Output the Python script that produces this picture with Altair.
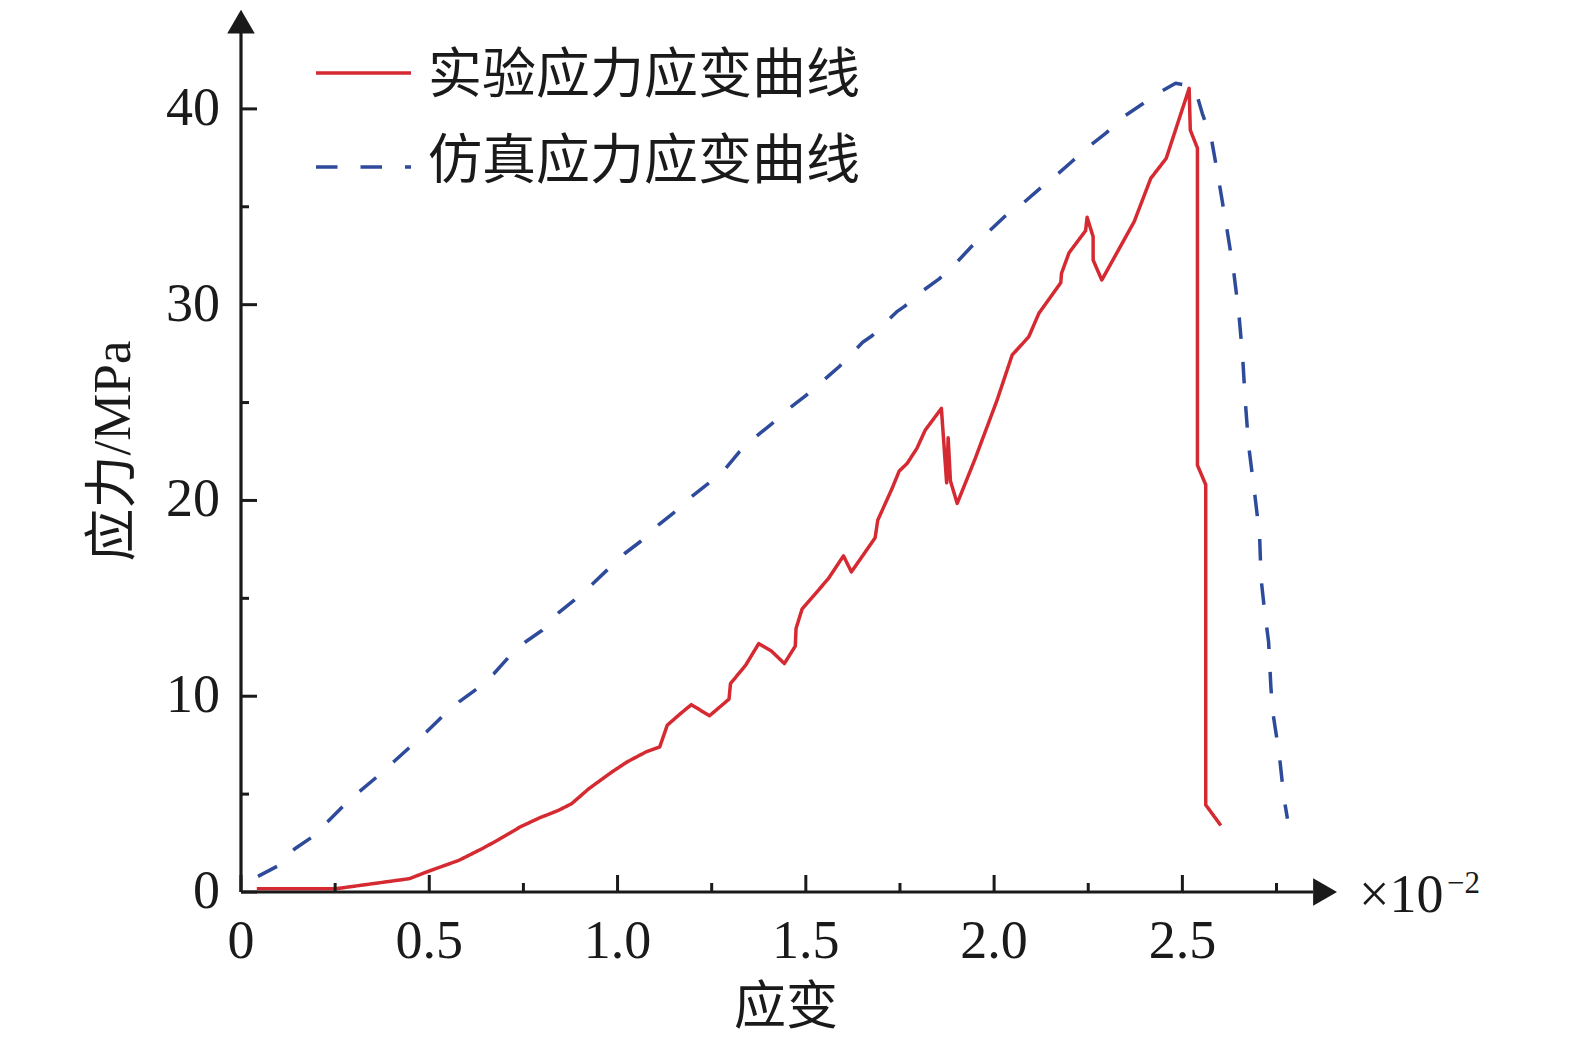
import altair as alt
import pandas as pd

# ---------------- data ----------------
series_names = ["实验应力应变曲线", "仿真应力应变曲线"]

exp_strain = [0.042, 0.253, 0.447, 0.498, 0.579, 0.640, 0.681, 0.741, 0.792, 0.843,
              0.878, 0.924, 0.985, 1.025, 1.076, 1.112, 1.132, 1.167, 1.196, 1.244,
              1.296, 1.300, 1.340, 1.375, 1.409, 1.443, 1.472, 1.474, 1.490, 1.560,
              1.600, 1.621, 1.684, 1.691, 1.729, 1.748, 1.769, 1.795, 1.817, 1.860,
              1.874, 1.878, 1.884, 1.902, 1.950, 2.008, 2.048, 2.092, 2.119, 2.177,
              2.179, 2.199, 2.243, 2.247, 2.263, 2.263, 2.286, 2.372, 2.416, 2.457,
              2.518, 2.521, 2.540, 2.540, 2.562, 2.562, 2.602]
exp_stress = [0.17, 0.17, 0.68, 1.06, 1.62, 2.21, 2.64, 3.32, 3.78, 4.17,
              4.51, 5.28, 6.13, 6.64, 7.16, 7.41, 8.52, 9.11, 9.57, 9.00,
              9.85, 10.65, 11.58, 12.69, 12.30, 11.67, 12.56, 13.46, 14.45, 16.01,
              17.17, 16.35, 18.09, 18.99, 20.61, 21.50, 21.89, 22.66, 23.59, 24.70,
              20.90, 23.20, 21.00, 19.85, 22.15, 25.13, 27.43, 28.36, 29.56, 31.12,
              31.60, 32.65, 33.78, 34.46, 33.47, 32.28, 31.26, 34.24, 36.45, 37.47,
              41.05, 38.92, 37.99, 21.80, 20.80, 4.45, 3.40]

sim_strain = [0.045, 0.098, 0.143, 0.189, 0.234, 0.269, 0.315, 0.361, 0.407, 0.449,
              0.493, 0.533, 0.579, 0.625, 0.672, 0.709, 0.756, 0.800, 0.843, 0.885,
              0.932, 0.972, 1.019, 1.060, 1.108, 1.149, 1.196, 1.238, 1.287, 1.324,
              1.370, 1.411, 1.456, 1.499, 1.565, 1.589, 1.651, 1.676, 1.741, 1.762,
              1.812, 1.855, 1.902, 1.940, 1.988, 2.026, 2.078, 2.116, 2.168, 2.206,
              2.254, 2.297, 2.349, 2.387, 2.444, 2.482, 2.512, 2.539, 2.553, 2.577,
              2.598, 2.617, 2.636, 2.650, 2.660, 2.667, 2.676, 2.691, 2.705, 2.709,
              2.718, 2.729, 2.735, 2.740, 2.757, 2.770, 2.779]
sim_stress = [0.80, 1.33, 2.21, 2.81, 3.66, 4.34, 5.14, 5.88, 6.68, 7.41,
              8.18, 8.94, 9.71, 10.36, 11.16, 11.96, 12.78, 13.37, 14.26, 14.91,
              15.71, 16.44, 17.29, 17.89, 18.74, 19.37, 20.19, 20.82, 21.64, 22.49,
              23.30, 23.94, 24.71, 25.34, 26.44, 26.84, 28.08, 28.41, 29.63, 29.91,
              30.73, 31.33, 32.19, 32.97, 33.78, 34.47, 35.20, 35.84, 36.66, 37.30,
              38.12, 38.76, 39.67, 40.16, 40.89, 41.31, 41.20, 40.67, 39.76, 38.48,
              36.20, 34.01, 31.73, 29.54, 27.35, 25.07, 22.79, 20.51, 18.23, 16.00,
              14.40, 12.77, 10.48, 9.20, 7.07, 4.77, 3.75]

x_major = [0, 0.5, 1.0, 1.5, 2.0, 2.5]
x_labels = ["0", "0.5", "1.0", "1.5", "2.0", "2.5"]
x_minor = [0.25, 0.75, 1.25, 1.75, 2.25, 2.75]
y_major = [0, 10, 20, 30, 40]
y_labels = ["0", "10", "20", "30", "40"]
y_minor = [5, 15, 25, 35]
x_title = "应变"
y_title = "应力/MPa"
unit_base = "×10"
unit_exp = "−2"

x_domain = [0, 2.9]
y_domain = [0, 45]
x_axis_end = 2.847
x_arrow = 2.879
y_axis_end = 43.87
y_arrow = 44.46

RED = "#d52a31"
BLUE = "#2e4b9b"
INK = "#1a1a1a"
W, H = 1092, 881
SERIF = "Liberation Serif"
CJK = "Noto Sans CJK SC"

# ---------------- tables ----------------
rows = []
for i, (sx, sy) in enumerate(zip(exp_strain, exp_stress)):
    rows.append({"series": series_names[0], "strain": sx, "stress": sy, "idx": i})
for i, (sx, sy) in enumerate(zip(sim_strain, sim_stress)):
    rows.append({"series": series_names[1], "strain": sx, "stress": sy, "idx": i})
df = pd.DataFrame(rows)

xs = alt.Scale(domain=x_domain, nice=False, zero=False)
ys = alt.Scale(domain=y_domain, nice=False, zero=False)

lines = alt.Chart(df).mark_line(strokeWidth=3.5, strokeJoin="round").encode(
    x=alt.X("strain:Q", scale=xs, axis=None),
    y=alt.Y("stress:Q", scale=ys, axis=None),
    color=alt.Color("series:N", scale=alt.Scale(domain=series_names, range=[RED, BLUE]), legend=None),
    strokeDash=alt.StrokeDash("series:N", scale=alt.Scale(domain=series_names, range=[[1, 0], [21.5, 23]]),
                              legend=None),
    order=alt.Order("idx:Q"),
)

one = pd.DataFrame({"k": [0]})

x_axis_line = alt.Chart(one).mark_rule(color=INK, strokeWidth=3.2).encode(
    x=alt.datum(0, axis=None), x2=alt.datum(x_axis_end), y=alt.datum(0, axis=None))
y_axis_line = alt.Chart(one).mark_rule(color=INK, strokeWidth=3.2).encode(
    x=alt.datum(0, axis=None), y=alt.datum(0, axis=None), y2=alt.datum(y_axis_end))
x_arrow_mark = alt.Chart(one).mark_point(shape="triangle-right", filled=True, size=760,
                                         color=INK, opacity=1, strokeWidth=0).encode(
    x=alt.datum(x_arrow, axis=None), y=alt.datum(0, axis=None))
y_arrow_mark = alt.Chart(one).mark_point(shape="triangle-up", filled=True, size=760,
                                         color=INK, opacity=1, strokeWidth=0).encode(
    x=alt.datum(0, axis=None), y=alt.datum(y_arrow, axis=None))

xt_major = alt.Chart(pd.DataFrame({"v": x_major})).mark_rule(color=INK, strokeWidth=3).encode(
    x=alt.X("v:Q", axis=None), y=alt.value(H), y2=alt.value(H - 17))
xt_minor = alt.Chart(pd.DataFrame({"v": x_minor})).mark_rule(color=INK, strokeWidth=3).encode(
    x=alt.X("v:Q", axis=None), y=alt.value(H), y2=alt.value(H - 9))
yt_major = alt.Chart(pd.DataFrame({"v": y_major})).mark_rule(color=INK, strokeWidth=3).encode(
    y=alt.Y("v:Q", axis=None), x=alt.value(0), x2=alt.value(16))
yt_minor = alt.Chart(pd.DataFrame({"v": y_minor})).mark_rule(color=INK, strokeWidth=3).encode(
    y=alt.Y("v:Q", axis=None), x=alt.value(0), x2=alt.value(8))

# tick labels (placed through the scales)
xl = alt.Chart(pd.DataFrame({"v": x_major, "lab": x_labels})).mark_text(
    font=SERIF, fontSize=54, color=INK, align="center", baseline="alphabetic").encode(
    x=alt.X("v:Q", axis=None), y=alt.value(947), text="lab:N")
yl = alt.Chart(pd.DataFrame({"v": y_major, "lab": y_labels})).mark_text(
    font=SERIF, fontSize=54, color=INK, align="right", baseline="middle").encode(
    y=alt.Y("v:Q", axis=None), x=alt.value(-21), text="lab:N")

# axis titles
xtitle = alt.Chart(pd.DataFrame({"t": [x_title]})).mark_text(
    font=CJK, fontSize=52, color=INK, align="center", baseline="alphabetic").encode(
    x=alt.value(545), y=alt.value(1013), text="t:N")
ytitle = alt.Chart(pd.DataFrame({"t": [y_title]})).mark_text(
    font=SERIF + ", " + CJK, fontSize=53, color=INK, align="center", baseline="middle",
    angle=270).encode(
    x=alt.value(-127), y=alt.value(440), text="t:N")

# exponent note
exp_base = alt.Chart(pd.DataFrame({"t": [unit_base]})).mark_text(
    font=SERIF, fontSize=54, color=INK, align="left", baseline="alphabetic").encode(
    x=alt.value(1118), y=alt.value(901), text="t:N")
exp_sup = alt.Chart(pd.DataFrame({"t": [unit_exp]})).mark_text(
    font=SERIF, fontSize=31, color=INK, align="left", baseline="alphabetic").encode(
    x=alt.value(1206), y=alt.value(882), text="t:N")

# legend (drawn by hand)
leg1_line = alt.Chart(one).mark_rule(color=RED, strokeWidth=3.5).encode(
    x=alt.value(75), x2=alt.value(170), y=alt.value(62))
leg2_line = alt.Chart(one).mark_rule(color=BLUE, strokeWidth=3.5, strokeDash=[21.5, 23]).encode(
    x=alt.value(75), x2=alt.value(170), y=alt.value(156))
leg1_text = alt.Chart(pd.DataFrame({"series": [series_names[0]]})).mark_text(
    font=CJK, fontSize=54, color=INK, align="left", baseline="middle").encode(
    text="series:N", x=alt.value(187), y=alt.value(66))
leg2_text = alt.Chart(pd.DataFrame({"series": [series_names[1]]})).mark_text(
    font=CJK, fontSize=54, color=INK, align="left", baseline="middle").encode(
    text="series:N", x=alt.value(187), y=alt.value(152))

chart = alt.layer(
    lines,
    x_axis_line, y_axis_line, x_arrow_mark, y_arrow_mark,
    xt_major, xt_minor, yt_major, yt_minor,
    xl, yl, xtitle, ytitle,
    exp_base, exp_sup,
    leg1_line, leg2_line, leg1_text, leg2_text,
).properties(
    width=W, height=H,
    autosize=alt.AutoSizeParams(type="none"),
    padding={"left": 233, "top": 3, "right": 200, "bottom": 150},
    background="white",
).configure_view(stroke=None)

chart.save("out.html", embed_options={"renderer": "svg", "actions": False})
